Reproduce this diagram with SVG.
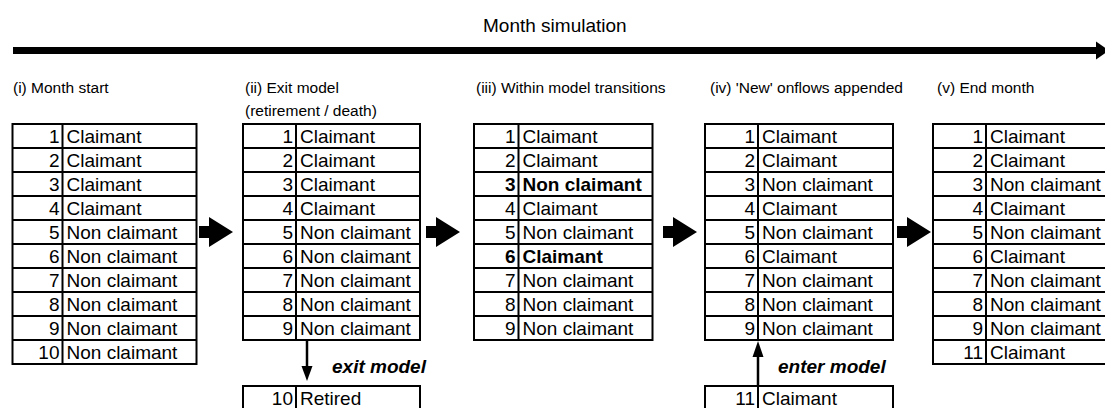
<svg xmlns="http://www.w3.org/2000/svg" width="1105" height="408" viewBox="0 0 1105 408">
<style>
text{font-family:"Liberation Sans",Arial,sans-serif;fill:#000}
.t{font-size:19px}
.n{font-size:19px;text-anchor:end}
.b{font-weight:bold}
.h{font-size:15.5px}
.ti{font-size:19px}
.lab{font-size:19px;font-weight:bold;font-style:italic}
.grid{fill:none;stroke:#000;stroke-width:2}
.ln{stroke:#000;stroke-width:2.5;fill:none}
.fill{fill:#000;stroke:none}
</style>
<rect width="1105" height="408" fill="#fff"/>
<g id="timeline">
<text class="ti" x="483" y="32">Month simulation</text>
</g>
<g id="connectors">
<rect class="fill" x="13" y="47" width="1085" height="7"/>
<polygon class="fill" points="1096,41.5 1109,50.5 1096,59.5"/>
<path class="fill" d="M199 226h10v-9l24 15l-24 15v-9h-10z"/>
<path class="fill" d="M426 226h10v-9l24 15l-24 15v-9h-10z"/>
<path class="fill" d="M663 226h10v-9l24 15l-24 15v-9h-10z"/>
<path class="fill" d="M897 226h10v-9l24 15l-24 15v-9h-10z"/>
<line class="ln" x1="307" y1="340" x2="307" y2="368"/>
<polygon class="fill" points="301.5,366 312.5,366 307,381"/>
<text class="lab" x="332" y="373">exit model</text>
<line class="ln" x1="758" y1="354" x2="758" y2="386"/>
<polygon class="fill" points="752.5,357 763.5,357 758,341"/>
<text class="lab" x="778" y="373">enter model</text>
</g>
<g id="t1">
<text class="h" x="13" y="93">(i) Month start</text>
<path class="grid" d="M12.5 124H196.5V364H12.5Z M62.5 124V364 M12.5 148H196.5M12.5 172H196.5M12.5 196H196.5M12.5 220H196.5M12.5 244H196.5M12.5 268H196.5M12.5 292H196.5M12.5 316H196.5M12.5 340H196.5"/>
<text class="n" x="59.5" y="142.5">1</text><text class="n" x="59.5" y="166.5">2</text><text class="n" x="59.5" y="190.5">3</text><text class="n" x="59.5" y="214.5">4</text><text class="n" x="59.5" y="238.5">5</text><text class="n" x="59.5" y="262.5">6</text><text class="n" x="59.5" y="286.5">7</text><text class="n" x="59.5" y="310.5">8</text><text class="n" x="59.5" y="334.5">9</text><text class="n" x="59.5" y="358.5">10</text>
<text class="t" x="66.5" y="142.5">Claimant</text><text class="t" x="66.5" y="166.5">Claimant</text><text class="t" x="66.5" y="190.5">Claimant</text><text class="t" x="66.5" y="214.5">Claimant</text><text class="t" x="66.5" y="238.5">Non claimant</text><text class="t" x="66.5" y="262.5">Non claimant</text><text class="t" x="66.5" y="286.5">Non claimant</text><text class="t" x="66.5" y="310.5">Non claimant</text><text class="t" x="66.5" y="334.5">Non claimant</text><text class="t" x="66.5" y="358.5">Non claimant</text>
</g>
<g id="t2">
<text class="h" x="245" y="93">(ii) Exit model</text>
<text class="h" x="245" y="116">(retirement / death)</text>
<path class="grid" d="M243 124H420V340H243Z M296 124V340 M243 148H420M243 172H420M243 196H420M243 220H420M243 244H420M243 268H420M243 292H420M243 316H420"/>
<text class="n" x="293" y="142.5">1</text><text class="n" x="293" y="166.5">2</text><text class="n" x="293" y="190.5">3</text><text class="n" x="293" y="214.5">4</text><text class="n" x="293" y="238.5">5</text><text class="n" x="293" y="262.5">6</text><text class="n" x="293" y="286.5">7</text><text class="n" x="293" y="310.5">8</text><text class="n" x="293" y="334.5">9</text>
<text class="t" x="300" y="142.5">Claimant</text><text class="t" x="300" y="166.5">Claimant</text><text class="t" x="300" y="190.5">Claimant</text><text class="t" x="300" y="214.5">Claimant</text><text class="t" x="300" y="238.5">Non claimant</text><text class="t" x="300" y="262.5">Non claimant</text><text class="t" x="300" y="286.5">Non claimant</text><text class="t" x="300" y="310.5">Non claimant</text><text class="t" x="300" y="334.5">Non claimant</text>
</g>
<g id="retired">
<path class="grid" d="M243 386H420V410H243Z M296 386V410"/>
<text class="n" x="293" y="404.5">10</text><text class="t" x="300" y="404.5">Retired</text>
</g>
<g id="t3">
<text class="h" x="476" y="93">(iii) Within model transitions</text>
<path class="grid" d="M474 124H652.5V340H474Z M518.5 124V340 M474 148H652.5M474 172H652.5M474 196H652.5M474 220H652.5M474 244H652.5M474 268H652.5M474 292H652.5M474 316H652.5"/>
<text class="n" x="515.5" y="142.5">1</text><text class="n" x="515.5" y="166.5">2</text><text class="n b" x="515.5" y="190.5">3</text><text class="n" x="515.5" y="214.5">4</text><text class="n" x="515.5" y="238.5">5</text><text class="n b" x="515.5" y="262.5">6</text><text class="n" x="515.5" y="286.5">7</text><text class="n" x="515.5" y="310.5">8</text><text class="n" x="515.5" y="334.5">9</text>
<text class="t" x="522.5" y="142.5">Claimant</text><text class="t" x="522.5" y="166.5">Claimant</text><text class="t b" x="522.5" y="190.5">Non claimant</text><text class="t" x="522.5" y="214.5">Claimant</text><text class="t" x="522.5" y="238.5">Non claimant</text><text class="t b" x="522.5" y="262.5">Claimant</text><text class="t" x="522.5" y="286.5">Non claimant</text><text class="t" x="522.5" y="310.5">Non claimant</text><text class="t" x="522.5" y="334.5">Non claimant</text>
</g>
<g id="t4">
<text class="h" x="710" y="93">(iv) 'New' onflows appended</text>
<path class="grid" d="M705 124H893V340H705Z M758 124V340 M705 148H893M705 172H893M705 196H893M705 220H893M705 244H893M705 268H893M705 292H893M705 316H893"/>
<text class="n" x="755" y="142.5">1</text><text class="n" x="755" y="166.5">2</text><text class="n" x="755" y="190.5">3</text><text class="n" x="755" y="214.5">4</text><text class="n" x="755" y="238.5">5</text><text class="n" x="755" y="262.5">6</text><text class="n" x="755" y="286.5">7</text><text class="n" x="755" y="310.5">8</text><text class="n" x="755" y="334.5">9</text>
<text class="t" x="762" y="142.5">Claimant</text><text class="t" x="762" y="166.5">Claimant</text><text class="t" x="762" y="190.5">Non claimant</text><text class="t" x="762" y="214.5">Claimant</text><text class="t" x="762" y="238.5">Non claimant</text><text class="t" x="762" y="262.5">Claimant</text><text class="t" x="762" y="286.5">Non claimant</text><text class="t" x="762" y="310.5">Non claimant</text><text class="t" x="762" y="334.5">Non claimant</text>
</g>
<g id="new">
<path class="grid" d="M705 386H893V410H705Z M758 386V410"/>
<text class="n" x="755" y="404.5">11</text><text class="t" x="762" y="404.5">Claimant</text>
</g>
<g id="t5">
<text class="h" x="937" y="93">(v) End month</text>
<path class="grid" d="M933 124H1115V364H933Z M986 124V364 M933 148H1115M933 172H1115M933 196H1115M933 220H1115M933 244H1115M933 268H1115M933 292H1115M933 316H1115M933 340H1115"/>
<text class="n" x="983" y="142.5">1</text><text class="n" x="983" y="166.5">2</text><text class="n" x="983" y="190.5">3</text><text class="n" x="983" y="214.5">4</text><text class="n" x="983" y="238.5">5</text><text class="n" x="983" y="262.5">6</text><text class="n" x="983" y="286.5">7</text><text class="n" x="983" y="310.5">8</text><text class="n" x="983" y="334.5">9</text><text class="n" x="983" y="358.5">11</text>
<text class="t" x="990" y="142.5">Claimant</text><text class="t" x="990" y="166.5">Claimant</text><text class="t" x="990" y="190.5">Non claimant</text><text class="t" x="990" y="214.5">Claimant</text><text class="t" x="990" y="238.5">Non claimant</text><text class="t" x="990" y="262.5">Claimant</text><text class="t" x="990" y="286.5">Non claimant</text><text class="t" x="990" y="310.5">Non claimant</text><text class="t" x="990" y="334.5">Non claimant</text><text class="t" x="990" y="358.5">Claimant</text>
</g>
</svg>
